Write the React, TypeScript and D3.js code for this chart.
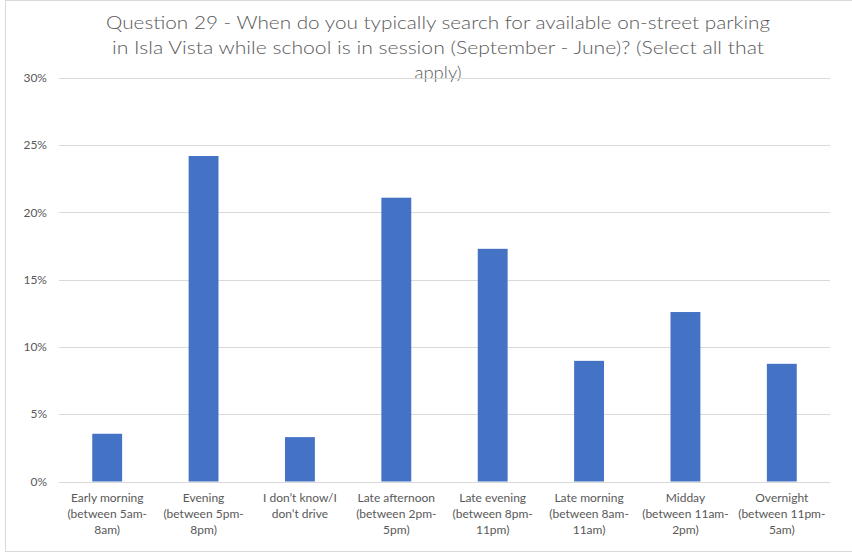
import React from "react";
import * as d3 from "d3";

const categories: string[][] = [
  ["Early morning", "(between 5am-", "8am)"],
  ["Evening", "(between 5pm-", "8pm)"],
  ["I don\u2019t know/I", "don\u2019t drive"],
  ["Late afternoon", "(between 2pm-", "5pm)"],
  ["Late evening", "(between 8pm-", "11pm)"],
  ["Late morning", "(between 8am-", "11am)"],
  ["Midday", "(between 11am-", "2pm)"],
  ["Overnight", "(between 11pm-", "5am)"],
];
const values: number[] = [0.0355, 0.242, 0.033, 0.211, 0.173, 0.0897, 0.126, 0.0875];
const yTicks: number[] = [0, 0.05, 0.1, 0.15, 0.2, 0.25, 0.3];
const titleLines: string[] = [
  "Question 29 - When do you typically search for available on-street parking",
  "in Isla Vista while school is in session (September - June)? (Select all that",
  "apply)",
];

export default function App() {
  const W = 852, H = 556;
  const left = 59, right = 830, top = 78, bottom = 481.5;
  const ids = categories.map((_, i) => String(i));
  const x = d3.scaleBand<string>().domain(ids).range([left, right]).paddingInner(0.69).paddingOuter(0.345);
  const y = d3.scaleLinear().domain([0, 0.3]).range([bottom, top]);
  const fmt = d3.format(".0%");
  const font = "Lato, 'Open Sans', sans-serif";
  const gray = "#595959";
  const titleWidths = [664, 652, 0];
  return (
    <svg width={W} height={H} style={{ position: "absolute", left: 0, top: 0 }} fontFamily={font}>
      <rect x={0} y={0} width={W} height={H} fill="#fff" />
      <rect x={5.5} y={0.5} width={W - 5} height={551} fill="none" stroke="#d9d9d9" />
      {titleLines.map((t, i) => (
        <text
          key={i}
          x={438}
          y={29 + i * 25}
          textAnchor="middle"
          fontSize={18.5}
          fontWeight={300}
          fill={gray}
          {...(titleWidths[i] ? { textLength: titleWidths[i], lengthAdjust: "spacingAndGlyphs" } : {})}
        >
          {t}
        </text>
      ))}
      {yTicks.map((t) => (
        <g key={t}>
          <line x1={left} x2={right} y1={Math.round(y(t)) + 0.5} y2={Math.round(y(t)) + 0.5} stroke="#d9d9d9" strokeWidth={1} />
          <text x={47} y={y(t) + 4} textAnchor="end" fontSize={12} fill={gray}>
            {fmt(t)}
          </text>
        </g>
      ))}
      {values.map((v, i) => (
        <rect key={i} x={x(ids[i])} y={y(v)} width={x.bandwidth()} height={y(0) - y(v)} fill="#4472C4" />
      ))}
      {categories.map((lines, i) => (
        <text key={i} textAnchor="middle" fontSize={12} fill={gray}>
          {lines.map((l, j) => (
            <tspan key={j} x={(x(ids[i]) as number) + x.bandwidth() / 2} y={502 + j * 16}>
              {l}
            </tspan>
          ))}
        </text>
      ))}
    </svg>
  );
}
